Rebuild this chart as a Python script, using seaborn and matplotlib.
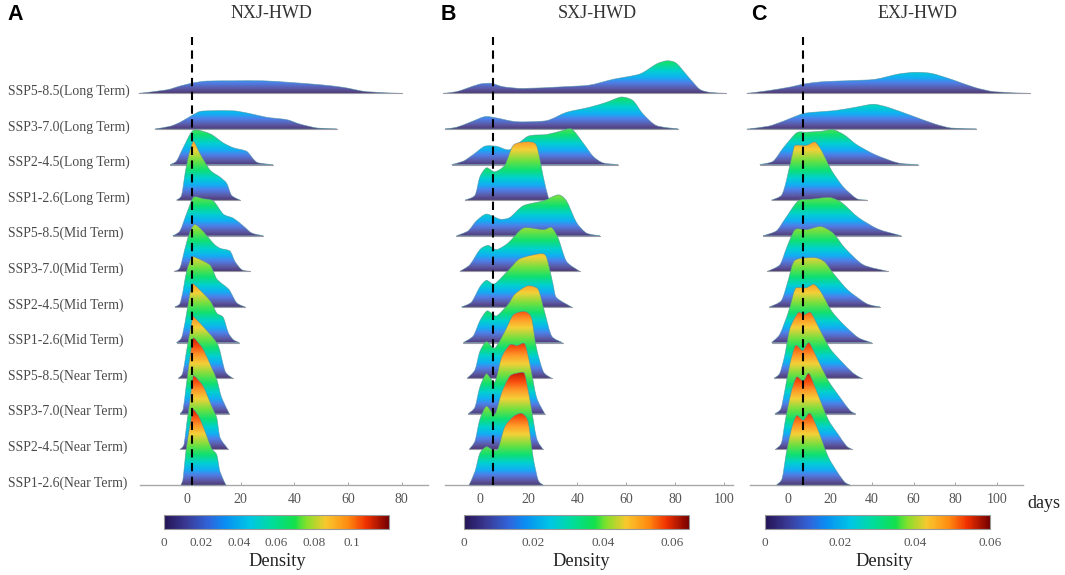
import numpy as np
import pandas as pd
import seaborn as sns
import matplotlib.pyplot as plt
from matplotlib.cm import ScalarMappable
from matplotlib.colors import LinearSegmentedColormap, Normalize
from matplotlib.patches import PathPatch
from matplotlib.path import Path

# scenarios, top row first
labels = ['SSP5-8.5(Long Term)', 'SSP3-7.0(Long Term)', 'SSP2-4.5(Long Term)', 'SSP1-2.6(Long Term)',
          'SSP5-8.5(Mid Term)', 'SSP3-7.0(Mid Term)', 'SSP2-4.5(Mid Term)', 'SSP1-2.6(Mid Term)',
          'SSP5-8.5(Near Term)', 'SSP3-7.0(Near Term)', 'SSP2-4.5(Near Term)', 'SSP1-2.6(Near Term)']

nxj_x = [
    [-18, -7.6, -2.6, 2.4, 7.3, 17.3, 28.4, 38.4, 49.6, 58.3, 67, 80],
    [-12, -6.3, -2.6, 1.7, 4.8, 8.6, 17.3, 23.5, 29.7, 37.2, 42, 48.5, 55.8],
    [-6.3, -3.9, -1.4, 2.4, 8.6, 13.5, 17.3, 22.2, 24.7, 26.6, 32],
    [-3.9, -2, -0.7, 0.5, 2.4, 4.8, 8.6, 12.3, 14.8, 16.6, 19.8],
    [-5.3, -2.6, 0, 2.4, 6.1, 9.8, 13.5, 17.3, 21, 24.1, 28.4],
    [-4.8, -2.6, -0.7, 1.1, 3, 6.1, 9.8, 12.3, 16, 17.9, 20.4, 23.5],
    [-4.5, -2.6, -1.4, -0.1, 1.7, 3, 8.6, 11.1, 14.8, 16, 18.5, 21.6],
    [-3.9, -2, -0.7, 0.5, 1.7, 2.7, 8.6, 11.1, 13.5, 15.4, 17.3, 19.5],
    [-3.2, -1.6, -0.4, 1.1, 2.1, 2.5, 8.6, 11.7, 14.2, 17],
    [-2.6, -1.4, -0.4, 0.9, 2.1, 2.7, 6.1, 9.2, 11.1, 12.9, 15.8],
    [-2.6, -1.1, -0.1, 1.1, 2.1, 2.7, 6.1, 9.2, 11.1, 12.3, 15.4],
    [-2.2, -1.4, -0.4, 0.9, 2.1, 2.7, 4.8, 7.3, 9.2, 11.1, 12.3, 14.5],
]
nxj_d = [
    [0, .005, .0105, .015, .0176, .018, .018, .0157, .0124, .0086, .0024, 0],
    [0, .0038, .0095, .019, .025, .026, .026, .022, .0167, .0133, .0071, .0014, 0],
    [0, .005, .024, .049, .044, .031, .024, .019, .008, .0024, 0],
    [0, .007, .038, .062, .084, .067, .043, .033, .024, .007, 0],
    [0, .007, .033, .055, .053, .05, .031, .025, .014, .004, 0],
    [0, .005, .033, .057, .067, .057, .04, .033, .029, .014, .0024, 0],
    [0, .005, .024, .052, .071, .071, .06, .04, .028, .023, .006, 0],
    [0, .007, .029, .057, .081, .083, .06, .042, .036, .014, .004, 0],
    [0, .007, .033, .067, .086, .088, .063, .046, .01, 0],
    [0, .007, .036, .076, .105, .108, .092, .066, .049, .023, 0],
    [0, .007, .036, .07, .1, .105, .09, .062, .045, .017, 0],
    [0, .01, .048, .081, .105, .107, .095, .071, .052, .043, .019, 0],
]

# SXJ
sxj_x = [
    [-15, -9.6, -5.5, 0, 4.8, 9.6, 17.8, 34.2, 45, 54.6, 65.6, 72.4, 76.8, 80.6, 86, 90.2, 94.3, 101],
    [-14.3, -9.6, -4.1, 2, 6.8, 15, 27.3, 35.5, 45, 51.9, 58, 62.8, 66.9, 72.4, 81.3],
    [-11.6, -6.8, -2.7, 2, 6.8, 12.3, 19.8, 27.3, 32.8, 37.6, 42.3, 46.4, 50.5, 56.7],
    [-6.1, -2, 0, 2.7, 6.1, 10.2, 13.7, 19.1, 23.2, 26, 28, 29.4],
    [-9.6, -4.8, -1.4, 2.7, 8.2, 12.3, 17.8, 26, 32.1, 35.5, 39.6, 43.7, 49.2],
    [-8.2, -4.1, 0, 3.4, 6.8, 11.6, 17.8, 26, 29.4, 32.1, 35.5, 41],
    [-7.5, -3.4, 0, 2.7, 6.1, 12.3, 16.4, 24.6, 27.3, 30, 31.4, 37.6],
    [-6.8, -2.7, 0, 3, 6.8, 11.6, 14.3, 19.4, 23.9, 26.6, 29.4, 33.9],
    [-5.2, -2, 0, 2.7, 6.1, 10.2, 13.7, 18.4, 21.2, 23.2, 26, 29.4],
    [-4.8, -2, 0, 2.7, 6.1, 8.9, 12.3, 15.3, 18.4, 20.5, 23.2, 26.6],
    [-4.4, -2, 0, 2.7, 6.1, 8.9, 12.3, 16.4, 18.4, 20.5, 23.2, 25.9],
    [-4.4, -2, 0, 2.7, 5.5, 7.5, 10.2, 13.7, 17.1, 19.8, 21.9, 23.9, 25.9],
]
sxj_d = [
    [0, .0013, .0038, .0072, .0077, .0051, .0038, .0051, .0064, .0108, .0149, .0226, .0251, .0231, .0115, .0031, .0008, 0],
    [0, .0013, .0051, .0095, .0085, .0056, .0064, .0128, .0167, .0205, .0246, .0218, .0115, .0026, 0],
    [0, .0026, .0077, .0141, .0141, .0115, .0218, .0231, .0256, .0274, .0167, .0064, .0013, 0],
    [0, .0038, .0179, .0249, .0218, .0269, .0423, .0449, .0423, .0179, .0026, 0],
    [0, .0038, .0115, .0167, .0128, .0141, .0231, .0269, .0315, .0269, .0103, .0021, 0],
    [0, .0051, .0167, .02, .0167, .0218, .0333, .0321, .0338, .0256, .0077, 0],
    [0, .0038, .0154, .0205, .0179, .0295, .0372, .041, .0385, .0174, .0072, 0],
    [0, .0051, .0167, .0244, .0205, .0295, .0372, .0436, .041, .0231, .0051, 0],
    [0, .0064, .0205, .0282, .0231, .0359, .0487, .0513, .0462, .0231, .0051, 0],
    [0, .0051, .0205, .0308, .0244, .0436, .0531, .0525, .0538, .0385, .0128, 0],
    [0, .0064, .0231, .0333, .0269, .0436, .0564, .059, .0577, .0385, .009, 0],
    [0, .0103, .0244, .0295, .0269, .0282, .0449, .0526, .0551, .0487, .0205, .0038, 0],
]

# EXJ
exj_x = [
    [-19.9, -9.6, 1.6, 7.2, 16, 28.7, 41.5, 52.6, 60.6, 68.6, 78.1, 89.3, 98.9, 115.6],
    [-19.9, -9.6, -1.6, 6.4, 11.2, 22.3, 31.9, 40.7, 47.8, 59, 70.2, 78.1, 90.1],
    [-13.6, -7.2, -2.4, 4, 8.8, 15.9, 21.5, 27.1, 32.7, 41.5, 52.6, 62.2],
    [-8, -3.2, -0.8, 2.4, 3.5, 8.8, 12.8, 15.9, 20.7, 26.3, 32.7, 37.5],
    [-12, -5.6, -1.6, 4.8, 11.2, 19.9, 25.5, 33.5, 43.1, 54.2],
    [-10, -4, -0.8, 3.2, 8.8, 15.6, 21.5, 27.1, 35.9, 47.8],
    [-9, -3.2, 0, 3.2, 12.8, 17.5, 22.3, 28.7, 37.5, 43.9],
    [-8, -4, 0, 3.2, 5.6, 8.8, 12.4, 15.9, 20.7, 26.3, 33.5, 39.9],
    [-6.7, -4, -1.6, 0.8, 4.8, 7.5, 10.8, 14.4, 19.9, 25.5, 31.1, 35.1],
    [-6.4, -3.5, -1.6, 0.8, 3.5, 6.9, 9.9, 13.6, 19.1, 24.7, 29.5, 32.2],
    [-6.1, -3.2, -1.3, 1.3, 4, 7.2, 9.9, 13.6, 19.1, 23.9, 27.9, 30.6],
    [-5.6, -2.9, -0.8, 1.6, 4, 7.2, 10.4, 14, 19.1, 23.9, 27.1, 29.5],
]
exj_d = [
    [0, .002, .0049, .0069, .0086, .0094, .0104, .0143, .0156, .0148, .0104, .0044, .0012, 0],
    [0, .002, .0062, .0111, .0123, .0136, .016, .0183, .016, .0099, .0037, .0007, 0],
    [0, .0025, .0123, .0235, .024, .0247, .0259, .0217, .0148, .0074, .0012, 0],
    [0, .0037, .0148, .037, .0407, .0407, .0432, .037, .0222, .0099, .0012, 0],
    [0, .0037, .0123, .0259, .0272, .0284, .0247, .0136, .0049, 0],
    [0, .0049, .0173, .0309, .0309, .0333, .0284, .0173, .0049, 0],
    [0, .0049, .0198, .0346, .0365, .0333, .0235, .0123, .0025, 0],
    [0, .0062, .0222, .0395, .0407, .0407, .0432, .037, .0235, .0136, .0037, 0],
    [0, .0037, .0173, .037, .0486, .0469, .0486, .0383, .0222, .0123, .0037, 0],
    [0, .0037, .0173, .037, .0506, .0469, .0526, .042, .0247, .0123, .0025, 0],
    [0, .0049, .0222, .042, .0536, .0506, .0563, .0432, .0222, .0111, .0025, 0],
    [0, .0049, .0247, .042, .0514, .0481, .0531, .042, .021, .0086, .002, 0],
]

titles = ['NXJ-HWD', 'SXJ-HWD', 'EXJ-HWD']
letters = ['A', 'B', 'C']
mean_days = [2, 5.5, 7]
density_max = [0.12, 0.065, 0.06]
x_ticks = [[0, 20, 40, 60, 80], [0, 20, 40, 60, 80, 100], [0, 20, 40, 60, 80, 100]]
bar_ticks = [[0, .02, .04, .06, .08, .1], [0, .02, .04, .06], [0, .02, .04, .06]]
bar_labels = [['0', '0.02', '0.04', '0.06', '0.08', '0.1'], ['0', '0.02', '0.04', '0.06'], ['0', '0.02', '0.04', '0.06']]

sns.set_theme(style='white')
serif = 'Liberation Serif'
grey = '#555555'

bar_cmap = LinearSegmentedColormap.from_list('bar', [
    (0.00, '#241455'), (0.10, '#3a3a96'), (0.20, '#2f66dc'), (0.27, '#0a8df2'),
    (0.38, '#00c6e6'), (0.48, '#00dc9c'), (0.58, '#12e04c'), (0.63, '#80e02c'),
    (0.72, '#f8c82e'), (0.82, '#ff8a10'), (0.90, '#f03000'), (1.00, '#760000')])

# inside the ridges the ramp climbs faster than on the colour bar
ridge_cmap = LinearSegmentedColormap.from_list('ridge', [
    (0.00, '#4e3c78'), (0.05, '#5c58a4'), (0.12, '#4f7fe8'), (0.18, '#12aef4'),
    (0.26, '#00d0d0'), (0.36, '#10e070'), (0.47, '#70e040'), (0.60, '#f4d038'),
    (0.70, '#ff9a28'), (0.80, '#f85010'), (0.88, '#d82808'), (1.00, '#800000')])

W, H = 1065, 575
fig = plt.figure(figsize=(W / 100, H / 100), dpi=100)


def px_axes(left, right, top, bottom):
    return fig.add_axes([left / W, 1 - bottom / H, (right - left) / W, (bottom - top) / H])


def ridge_path(x, d, base):
    # curve through the read values
    pts = np.column_stack([x, np.array(d) + base])
    verts = [pts[0]]
    codes = [Path.MOVETO]
    for i in range(len(pts) - 1):
        before = pts[max(i - 1, 0)]
        after = pts[min(i + 2, len(pts) - 1)]
        c1 = pts[i] + (pts[i + 1] - before) / 8
        c2 = pts[i + 1] - (after - pts[i]) / 8
        c1[1] = max(c1[1], base)
        c2[1] = max(c2[1], base)
        verts += [c1, c2, pts[i + 1]]
        codes += [Path.CURVE4] * 3
    verts.append(pts[0])
    codes.append(Path.CLOSEPOLY)
    return Path(verts, codes)


panels = [
    (nxj_x, nxj_d, (140, 428), (-17.5, 89.8), 700, (164, 389), 271.7, 7, 277),
    (sxj_x, sxj_d, (445, 733), (-14.3, 103.8), 1300, (464.3, 689.3), 597, 441, 581),
    (exj_x, exj_d, (750, 1023), (-18.3, 112.4), 1350, (765, 990), 917.7, 751, 884),
]

for p, (xs, ds, x_px, xlim, y_scale, bar_px, title_x, letter_x, dens_x) in enumerate(panels):
    ax = px_axes(x_px[0], x_px[1], 37, 485)
    gap = 35.6 / y_scale
    vmax = density_max[p]
    top = 84 / y_scale
    grad = np.linspace(0, 1, 256)[:, None]

    for i in range(12):
        base = (11 - i) * gap
        z = 2 + i
        path = ridge_path(xs[i], ds[i], base)
        im = ax.imshow(grad, extent=[xs[i][0], xs[i][-1], base, base + top], origin='lower',
                       aspect='auto', cmap=ridge_cmap, vmin=0, vmax=1, zorder=z)
        im.set_clip_path(PathPatch(path, transform=ax.transData))
        ax.add_patch(PathPatch(path, facecolor='none', edgecolor='#4f8fa0', lw=0.5, alpha=0.7,
                               zorder=z, clip_on=False))
        tail = pd.DataFrame({'days': [xs[i][0], xs[i][-1]], 'level': [base, base]})
        sns.lineplot(data=tail, x='days', y='level', color='#9a9aa6', lw=0.8, ax=ax, zorder=z,
                     clip_on=False, legend=False)
        if p == 0:
            ax.annotate(labels[i], xy=(8 / W, base), xycoords=('figure fraction', 'data'),
                        xytext=(0, 1.5), textcoords='offset points', va='center', ha='left',
                        family=serif, fontsize=9.9, color='#4a4a4a')

    ax.axvline(mean_days[p], color='black', lw=1.5, dashes=(4, 2.6), zorder=40)
    ax.set_xlim(*xlim)
    ax.set_ylim(0, 448 / y_scale)
    ax.set_xticks(x_ticks[p])
    ax.set_yticks([])
    ax.set_xlabel('')
    ax.set_ylabel('')
    sns.despine(ax=ax, left=True)
    ax.spines['bottom'].set_color('#a8a8a8')
    ax.spines['bottom'].set_linewidth(1)
    ax.tick_params(axis='x', direction='in', length=2.5, width=0.7, color='#a8a8a8', pad=6,
                   labelcolor=grey, labelsize=10, bottom=True)
    for t in ax.get_xticklabels():
        t.set_family(serif)

    fig.text(title_x / W, 1 - 13 / H, titles[p], ha='center', va='center', family=serif,
             fontsize=13, color='#333333')
    fig.text(letter_x / W, 1 - 15 / H, letters[p], ha='left', va='center', family='Liberation Sans',
             fontsize=15.5, fontweight='bold', color='black')

    cax = px_axes(bar_px[0], bar_px[1], 515, 529)
    cb = fig.colorbar(ScalarMappable(Normalize(0, vmax), bar_cmap), cax=cax, orientation='horizontal')
    cb.set_ticks(bar_ticks[p], labels=bar_labels[p])
    cb.ax.tick_params(direction='in', length=2, width=0.6, color='#888888', pad=6,
                      labelcolor=grey, labelsize=9.5)
    for t in cb.ax.get_xticklabels():
        t.set_family(serif)
    cb.outline.set_edgecolor('#999999')
    cb.outline.set_linewidth(0.8)
    fig.text(dens_x / W, 1 - 561.5 / H, 'Density', ha='center', va='center',
             family=serif, fontsize=13.3, color='#222222')

fig.text(1044 / W, 1 - 503 / H, 'days', ha='center', va='center', family=serif, fontsize=13, color='#222222')

fig.savefig('out.png', dpi=100)
